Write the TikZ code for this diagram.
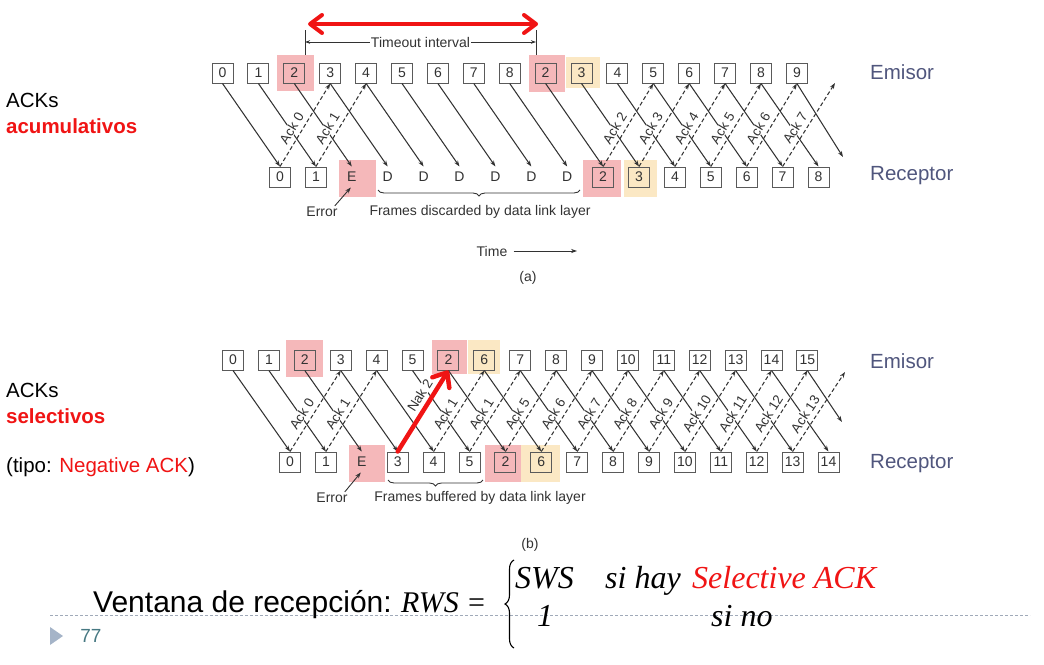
\documentclass[tikz,border=0pt]{standalone}
\usepackage{fontspec}
\setmainfont{Liberation Sans}
\newfontfamily\serifit{Liberation Serif}
\usetikzlibrary{arrows.meta,decorations.pathreplacing}
\definecolor{hlred}{RGB}{245,184,186}
\definecolor{hlyel}{RGB}{251,232,196}
\definecolor{figgray}{RGB}{50,50,50}
\definecolor{boxgray}{RGB}{90,90,90}
\definecolor{labblue}{RGB}{80,86,125}
\definecolor{pagenum}{RGB}{70,120,130}
\definecolor{rulegray}{RGB}{160,170,185}
\definecolor{trigray}{RGB}{165,180,200}
\definecolor{myred}{RGB}{240,20,20}
\begin{document}
\begin{tikzpicture}[x=1pt,y=-1pt,
  frame/.style={draw=boxgray, line width=1pt, minimum width=21pt, minimum height=20pt, inner sep=0pt, font=\fontsize{14}{16}\selectfont, text=figgray},
  bare/.style={frame, draw=none},
  data/.style={draw=figgray, line width=1.05pt, -{Stealth[length=6pt,width=4.2pt]}},
  ack/.style={data, dash pattern=on 4pt off 2.5pt},
  acklab/.style={sloped, above=4pt, pos=0.4, fill=white, inner sep=0.5pt, font=\fontsize{13.5}{15}\selectfont, text=figgray},
  figtext/.style={font=\fontsize{14}{16}\selectfont, text=figgray, inner sep=1pt},
  side/.style={font=\fontsize{20.5}{24}\selectfont, text=labblue, anchor=west, inner sep=0pt},
  lefttext/.style={font=\fontsize{20.5}{24}\selectfont, anchor=west, inner sep=0pt},
  mathit/.style={font=\serifit\itshape\fontsize{32}{36}\selectfont, inner sep=0pt, anchor=base west},
  redbarb/.style={draw=myred, line width=4pt, line cap=round}
]
\useasboundingbox (0,0) rectangle (1044,664);

% ---------------- highlights (a)
\fill[hlred] (277,55) rectangle (314,91);
\fill[hlred] (529,55) rectangle (565,92);
\fill[hlyel] (566,57) rectangle (600,88);
\fill[hlred] (339,160) rectangle (376,197);
\fill[hlred] (583,160) rectangle (621,197);
\fill[hlyel] (624,160) rectangle (657,197);
% ---------------- highlights (b)
\fill[hlred] (286,340) rectangle (323,377);
\fill[hlred] (432,340) rectangle (467,374);
\fill[hlyel] (468,340) rectangle (500,374);
\fill[hlred] (349,445) rectangle (385,482);
\fill[hlred] (485,445) rectangle (521,482);
\fill[hlyel] (521,445) rectangle (560,482);

% ---------------- diagram (a)
\foreach \lab [count=\i from 0] in {0,1,2,3,4,5,6,7,8,2,3,4,5,6,7,8,9}
  \node[frame] (sa\i) at ({222.5+35.9*\i},73) {\lab};
\foreach \j/\lab in {0/0,1/1,9/2,10/3,11/4,12/5,13/6,14/7,15/8}
  \node[frame] (ra\j) at ({280+35.9*\j},177) {\lab};
\foreach \j/\lab in {2/E,3/D,4/D,5/D,6/D,7/D,8/D}
  \node[bare] (ra\j) at ({280+35.9*\j},177) {\lab};
\foreach \i in {0,...,15}
  \draw[data] (sa\i.south) -- (ra\i.north);
\coordinate (saend) at (843,157);
\draw[data] (sa16.south) -- (saend);
\foreach \j/\k/\n in {0/3/0,1/4/1,9/12/2,10/13/3,11/14/4,12/15/5,13/16/6}
  \draw[ack] (ra\j.north) -- node[acklab]{Ack \n} (sa\k.south);
\coordinate (aaend) at (835,83);
\draw[ack] (ra14.north) -- node[acklab]{Ack 7} (aaend);

% timeout interval
\coordinate (tlt) at (305,30); \coordinate (tlb) at (305,55);
\coordinate (trt) at (536,30); \coordinate (trb) at (536,55);
\coordinate (tla) at (305,42); \coordinate (tra) at (536,42);
\draw[figgray, line width=0.9pt] (tlt) -- (tlb);
\draw[figgray, line width=0.9pt] (trt) -- (trb);
\draw[figgray, line width=0.9pt, {Stealth[length=5pt,width=3.5pt]}-{Stealth[length=5pt,width=3.5pt]}] (tla) -- node[figtext, fill=white]{Timeout interval} (tra);
\coordinate (rdl) at (308,24); \coordinate (rdr) at (538,24);
\draw[redbarb, {Straight Barb[length=12pt,width=18pt,round]}-{Straight Barb[length=12pt,width=18pt,round]}] (rdl) -- (rdr);

% brace and texts (a)
\coordinate (bal) at (378,190); \coordinate (bar) at (580,190);
\draw[figgray, line width=0.9pt, decorate, decoration={brace, amplitude=6pt, mirror}] (bal) -- (bar);
\node[figtext] (disca) at (480,212) {Frames discarded by data link layer};
\node[figtext] (erra) at (322,212) {Error};
\draw[data, line width=0.9pt] ([xshift=-4pt]erra.north east) -- ([xshift=-1pt]ra2.south);
\node[figtext] (time) at (492,251) {Time};
\coordinate (tend) at (577,251);
\draw[data, line width=0.9pt] ([xshift=5pt]time.east) -- (tend);
\node[figtext] (capa) at (528,278) {(a)};

% ---------------- diagram (b)
\foreach \lab [count=\i from 0] in {0,1,2,3,4,5,2,6,7,8,9,10,11,12,13,14,15}
  \node[frame] (sb\i) at ({233+35.9*\i},360) {\lab};
\foreach \j/\lab in {0/0,1/1,3/3,4/4,5/5,6/2,7/6,8/7,9/8,10/9,11/10,12/11,13/12,14/13,15/14}
  \node[frame] (rb\j) at ({290+35.9*\j},462) {\lab};
\node[bare] (rb2) at ({290+35.9*2},462) {E};
\foreach \i in {0,...,15}
  \draw[data] (sb\i.south) -- (rb\i.north);
\coordinate (sbend) at (842,422);
\draw[data] (sb16.south) -- (sbend);
\foreach \j/\k/\n in {0/3/0,1/4/1,4/7/1,5/8/1,6/9/5,7/10/6,8/11/7,9/12/8,10/13/9,11/14/10,12/15/11,13/16/12}
  \draw[ack] (rb\j.north) -- node[acklab]{Ack \n} (sb\k.south);
\coordinate (abend) at (845,372);
\draw[ack] (rb14.north) -- node[acklab]{Ack 13} (abend);
\draw[ack] (rb3.north) -- node[acklab, pos=0.62, above=1pt]{Nak 2} (sb6.south);
\draw[redbarb, line width=4.5pt, -{Straight Barb[length=12pt,width=20pt,round]}] (rb3.north) -- (sb6.south);

\coordinate (bbl) at (388,480); \coordinate (bbr) at (483,480);
\draw[figgray, line width=0.9pt, decorate, decoration={brace, amplitude=6pt, mirror}] (bbl) -- (bbr);
\node[figtext] (bufb) at (480,498) {Frames buffered by data link layer};
\node[figtext] (errb) at (332,498) {Error};
\draw[data, line width=0.9pt] ([xshift=-4pt]errb.north east) -- ([xshift=-1pt]rb2.south);
\node[figtext] (capb) at (530,545) {(b)};

% ---------------- side labels
\node[side] (ema) at (870,72) {Emisor};
\node[side] (rea) at (870,176) {Receptor};
\node[side] (emb) at (870,361) {Emisor};
\node[side] (reb) at (870,464) {Receptor};

\node[lefttext] (acka) at (6,100) {ACKs};
\node[lefttext, font=\bfseries\fontsize{20.5}{24}\selectfont, text=myred] (acum) at (6,126) {acumulativos};
\node[lefttext] (ackb) at (6,390) {ACKs};
\node[lefttext, font=\bfseries\fontsize{20.5}{24}\selectfont, text=myred] (selc) at (6,416) {selectivos};
\node[lefttext] (tipo) at (6,467) {(tipo: \textcolor{myred}{Negative ACK})};

% ---------------- footer rule and page number
\coordinate (rl) at (50,615); \coordinate (rr) at (1030,615);
\draw[rulegray, line width=1pt, dash pattern=on 3pt off 2pt] (rl) -- (rr);
\fill[trigray] (50,627) -- (63,636) -- (50,645) -- cycle;
\node[font=\fontsize{19}{22}\selectfont, text=pagenum, inner sep=0pt] (pnum) at (91,636) {77};

% ---------------- formula
\node[anchor=base west, font=\fontsize{30}{34}\selectfont, inner sep=0pt] (vent) at (93,612) {Ventana de recepción:};
\node[mathit, font=\serifit\itshape\fontsize{30}{34}\selectfont] (rws) at (401,612) {RWS};
\node[inner sep=0pt, font=\serifit\fontsize{30}{34}\selectfont, anchor=base west] (eq) at (468,612) {=};
\coordinate (brb) at (514,648); \coordinate (brt) at (514,560);
\draw[line width=1.1pt, decorate, decoration={brace, amplitude=9pt}] (brb) -- (brt);
\node[mathit] (sws) at (515,588) {SWS};
\node[mathit] (sihay) at (605,588) {si hay};
\node[mathit, text=myred] (selack) at (692,588) {Selective ACK};
\node[mathit] (one) at (537,626) {1};
\node[mathit] (sino) at (711,626) {si no};
\end{tikzpicture}
\end{document}
